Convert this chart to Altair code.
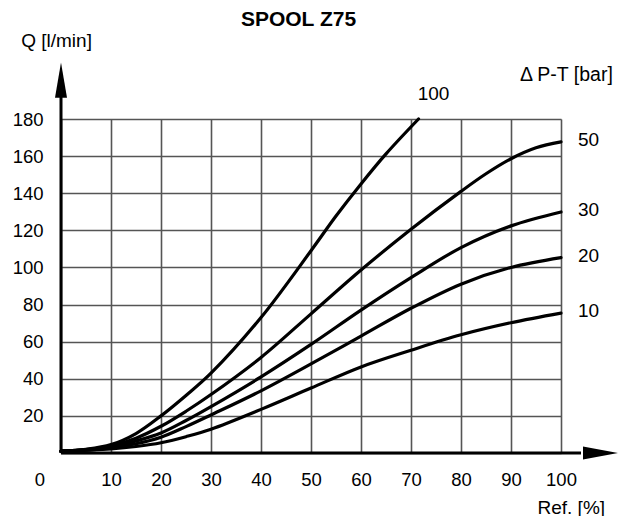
import altair as alt
import pandas as pd

# Reference opening [%] and flow Q [l/min] for each pressure drop curve
x_pts = [0, 5, 10, 15, 20, 25, 30, 40, 50, 60, 70, 80, 90, 100]
q_10 = [1, 1.5, 2.2, 3.5, 5.5, 8.8, 12.8, 23.5, 35.0, 46.4, 55.4, 63.7, 70.2, 75.4]
q_20 = [1, 1.6, 2.8, 5.0, 8.5, 14.2, 20.5, 33.5, 48.0, 63.0, 78.0, 91.0, 100.0, 105.3]
q_30 = [1, 1.7, 3.3, 6.5, 10.8, 17.5, 25.0, 41.0, 58.5, 77.0, 94.5, 110.7, 122.4, 129.9]
x_50 = [0, 5, 10, 15, 20, 25, 30, 40, 50, 60, 70, 80, 85, 90, 95, 100]
q_50 = [1, 1.8, 3.8, 8.0, 14.4, 22.5, 31.5, 51.5, 75.0, 98.6, 120.6, 141.0, 150.5, 158.6, 164.5, 167.7]
x_100 = [0, 5, 10, 15, 20, 25, 30, 40, 50, 55, 60, 65, 71.5]
q_100 = [1, 2.0, 4.5, 10.5, 20.0, 31.0, 43.0, 73.0, 109.0, 127.7, 145.0, 161.2, 180.0]

grid_x = [0, 10, 20, 30, 40, 50, 60, 70, 80, 90, 100]
grid_y = [0, 20, 40, 60, 80, 100, 120, 140, 160, 180]

FONT = "Liberation Sans"

rows = []
for name, xs_, ys_ in [("10", x_pts, q_10), ("20", x_pts, q_20), ("30", x_pts, q_30),
                       ("50", x_50, q_50), ("100", x_100, q_100)]:
    for xv, yv in zip(xs_, ys_):
        rows.append({"dp": name, "ref": xv, "q": yv})
curves = pd.DataFrame(rows)

right_labels = pd.DataFrame({
    "dp": ["50", "30", "20", "10"],
    "ref": [100] * 4,
    "q": [q_50[-1], q_30[-1], q_20[-1], q_10[-1]],
})
top_label = pd.DataFrame({"dp": ["100"], "ref": [x_100[-1]], "q": [q_100[-1]]})

xs = alt.Scale(domain=[0, 100], nice=False, zero=False)
ys = alt.Scale(domain=[0, 180], nice=False, zero=False)

ax_x = alt.Axis(values=grid_x, grid=True, gridColor="#555555", gridWidth=1.6,
                gridOpacity=1, ticks=False, tickSize=0, domain=False,
                labelExpr="datum.value == 0 ? '' : datum.label",
                labelOverlap=False, labelFlush=False,
                labelFontSize=18.5, labelFont=FONT, labelColor="black",
                labelPadding=17, title="Ref. [%]", titleFont=FONT,
                titleFontSize=19, titleFontWeight="normal", titleColor="black",
                titleAlign="left", titleBaseline="alphabetic",
                titleX=476, titleY=60)
ax_y = alt.Axis(values=grid_y, grid=True, gridColor="#555555", gridWidth=1.6,
                gridOpacity=1, ticks=False, tickSize=0, domain=False,
                labelExpr="datum.value == 0 ? '' : datum.label",
                labelOverlap=False, labelFlush=False,
                labelFontSize=18.5, labelFont=FONT, labelColor="black",
                labelPadding=18, title="Q [l/min]", titleFont=FONT,
                titleFontSize=19, titleFontWeight="normal", titleColor="black",
                titleAngle=0, titleAlign="left", titleBaseline="alphabetic",
                titleX=-40.3, titleY=-72.6)


def X(field="ref:Q"):
    return alt.X(field, scale=xs, axis=ax_x)


def Y(field="q:Q"):
    return alt.Y(field, scale=ys, axis=ax_y)


base = alt.Chart(curves)

lines = base.mark_line(color="black", strokeWidth=3.2, interpolate="catmull-rom",
                       strokeCap="round").encode(
    x=X(), y=Y(), detail="dp:N", order="ref:Q",
)

y_axis_line = alt.Chart(pd.DataFrame({"ref": [0], "q": [0], "q2": [195]})).mark_rule(
    color="black", strokeWidth=3).encode(x=X(), y=Y(), y2="q2:Q")
x_axis_line = alt.Chart(pd.DataFrame({"ref": [0], "ref2": [104], "q": [0]})).mark_rule(
    color="black", strokeWidth=3).encode(x=X(), x2="ref2:Q", y=Y())

y_arrow = alt.Chart(pd.DataFrame({"ref": [0], "q": [201.0]})).mark_point(
    shape="M0,-1L0.34,1L-0.34,1Z", size=1246, filled=True, color="black",
    opacity=1, strokeWidth=0).encode(x=X(), y=Y())
x_arrow = alt.Chart(pd.DataFrame({"ref": [107.9], "q": [0]})).mark_point(
    shape="M1,0L-1,-0.37L-1,0.37Z", size=1225, filled=True, color="black",
    opacity=1, strokeWidth=0).encode(x=X(), y=Y())

zero_label = alt.Chart(pd.DataFrame({"ref": [0], "q": [0], "t": ["0"]})).mark_text(
    font=FONT, fontSize=18.5, color="black", align="center", baseline="middle",
    dx=-21, dy=27).encode(x=X(), y=Y(), text="t:N")

right_text = alt.Chart(right_labels).mark_text(
    font=FONT, fontSize=19, color="black", align="left", baseline="middle",
    dx=17, dy=-2).encode(x=X(), y=Y(), text="dp:N")

top_text = alt.Chart(top_label).mark_text(
    font=FONT, fontSize=19, color="black", align="center", baseline="middle",
    dx=15, dy=-25).encode(x=X(), y=Y(), text="dp:N")

ann = alt.Data(values=[{"a": 1}])
title_text = alt.Chart(ann).mark_text(
    text="SPOOL Z75", font=FONT, fontSize=21, fontWeight="bold", color="black",
    align="center", baseline="alphabetic").encode(
    x=alt.value(237.5), y=alt.value(-92.6))
dp_text = alt.Chart(ann).mark_text(
    text="\u0394 P-T  [bar]", font=FONT, fontSize=19.5, color="black",
    align="left", baseline="alphabetic").encode(
    x=alt.value(459), y=alt.value(-37.6))

chart = alt.layer(
    lines, y_axis_line, x_axis_line, y_arrow, x_arrow,
    zero_label, right_text, top_text, title_text, dp_text,
).properties(
    width=500, height=334,
    autosize=alt.AutoSizeParams(type="none"),
    padding={"left": 53, "top": 111, "right": 65, "bottom": 63},
).configure_view(stroke=None).configure_axis(labelOverlap=False).configure(background="white")

chart.save("out.html", embed_options={"renderer": "svg", "actions": False})
